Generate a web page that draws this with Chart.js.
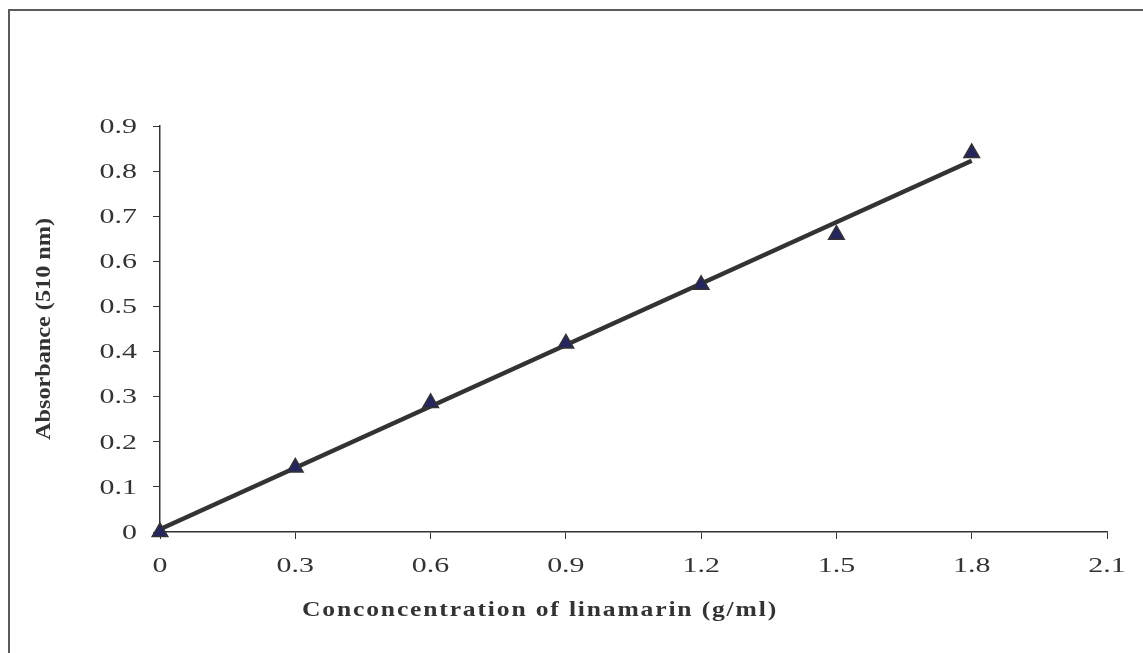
<!DOCTYPE html>
<html>
<head>
<meta charset="utf-8">
<script src="https://cdn.jsdelivr.net/npm/chart.js@4"></script>
<style>
html,body{margin:0;padding:0;background:#fff;}
#wrap{position:relative;width:1143px;height:653px;}
canvas{display:block;}
</style>
</head>
<body>
<div id="wrap"><canvas id="c" width="1143" height="653"></canvas></div>
<script>
const concentrations = [0, 0.3, 0.6, 0.9, 1.2, 1.5, 1.8];
const absorbance = [0, 0.143, 0.286, 0.418, 0.548, 0.659, 0.840];
const trendX = [0, 1.8];
const trendY = [0.006, 0.823];
const xTickValues = [0, 0.3, 0.6, 0.9, 1.2, 1.5, 1.8, 2.1];
const yTickValues = [0, 0.1, 0.2, 0.3, 0.4, 0.5, 0.6, 0.7, 0.8, 0.9];
const xTitle = 'Conconcentration of linamarin (g/ml)';
const yTitle = 'Absorbance (510 nm)';

const pointsData = concentrations.map((x, i) => ({x: x, y: absorbance[i]}));
const trendData = trendX.map((x, i) => ({x: x, y: trendY[i]}));

const fmt = v => (v === 0 ? '0' : (Math.round(v * 10) / 10).toFixed(1));
const SERIF = '"Liberation Serif", "Times New Roman", serif';
const STRETCH = 1.36;

const decor = {
  id: 'decor',
  beforeDraw(chart) {
    const ctx = chart.ctx;
    ctx.save();
    ctx.fillStyle = '#fff';
    ctx.fillRect(0, 0, chart.width, chart.height);
    ctx.strokeStyle = '#5a5a5a';
    ctx.lineWidth = 2;
    ctx.beginPath();
    ctx.moveTo(9, 653);
    ctx.lineTo(9, 10);
    ctx.lineTo(1143, 10);
    ctx.stroke();
    ctx.restore();
  },
  afterDraw(chart) {
    const ctx = chart.ctx;
    const ca = chart.chartArea;
    const xs = chart.scales.x, ys = chart.scales.y;
    ctx.save();
    ctx.fillStyle = '#333';
    ctx.textBaseline = 'middle';
    ctx.font = '22px ' + SERIF;
    // y tick labels
    yTickValues.forEach(v => {
      ctx.save();
      ctx.translate(ca.left - 23, ys.getPixelForValue(v));
      ctx.scale(STRETCH, 1);
      ctx.textAlign = 'right';
      ctx.fillText(fmt(v), 0, 1);
      ctx.restore();
    });
    // x tick labels
    xTickValues.forEach(v => {
      ctx.save();
      ctx.translate(xs.getPixelForValue(v), ca.bottom + 34);
      ctx.scale(STRETCH, 1);
      ctx.textAlign = 'center';
      ctx.fillText(fmt(v), 0, 0);
      ctx.restore();
    });
    // x title, stretched horizontally with slight spacing
    ctx.font = 'bold 21px ' + SERIF;
    ctx.textAlign = 'left';
    ctx.letterSpacing = '1.5px';
    const natural = ctx.measureText(xTitle).width;
    ctx.save();
    ctx.translate(302, 611);
    ctx.scale(476 / natural, 1);
    ctx.fillText(xTitle, 0, 0);
    ctx.restore();
    ctx.letterSpacing = '0px';
    // y title, condensed
    ctx.font = 'bold 20px ' + SERIF;
    const yNat = ctx.measureText(yTitle).width;
    ctx.translate(45, (ca.top + ca.bottom) / 2);
    ctx.rotate(-Math.PI / 2);
    ctx.scale(222 / yNat, 1);
    ctx.textAlign = 'center';
    ctx.fillText(yTitle, 0, 0);
    ctx.restore();
  }
};

new Chart(document.getElementById('c'), {
  type: 'scatter',
  data: {
    datasets: [
      {
        label: 'Trend',
        data: trendData,
        showLine: true,
        borderColor: '#333333',
        borderWidth: 4.5,
        pointRadius: 0,
        pointHoverRadius: 0,
        fill: false,
        clip: false,
        order: 2
      },
      {
        label: 'Absorbance',
        data: pointsData,
        showLine: false,
        pointStyle: 'triangle',
        pointRadius: 9,
        pointBackgroundColor: '#252560',
        pointBorderColor: '#333333',
        pointBorderWidth: 1.5,
        clip: false,
        order: 1
      }
    ]
  },
  options: {
    responsive: false,
    animation: false,
    devicePixelRatio: 1,
    layout: {padding: {left: 0, top: 126, right: 36, bottom: 0}},
    plugins: {legend: {display: false}, tooltip: {enabled: false}, title: {display: false}},
    scales: {
      x: {
        type: 'linear',
        min: 0, max: 2.1,
        afterBuildTicks: s => { s.ticks = xTickValues.map(v => ({value: v})); },
        afterFit: s => { s.height = 653 - 532; },
        border: {display: true, color: '#333', width: 1.5},
        grid: {display: true, drawOnChartArea: false, drawTicks: true, tickLength: 7, color: '#333', lineWidth: 1},
        ticks: {display: false, autoSkip: false}
      },
      y: {
        type: 'linear',
        min: 0, max: 0.9,
        afterBuildTicks: s => { s.ticks = yTickValues.map(v => ({value: v})); },
        afterFit: s => { s.width = 160; },
        border: {display: true, color: '#333', width: 1.5},
        grid: {display: true, drawOnChartArea: false, drawTicks: true, tickLength: 7, color: '#333', lineWidth: 1},
        ticks: {display: false, autoSkip: false}
      }
    }
  },
  plugins: [decor]
});
</script>
</body>
</html>
